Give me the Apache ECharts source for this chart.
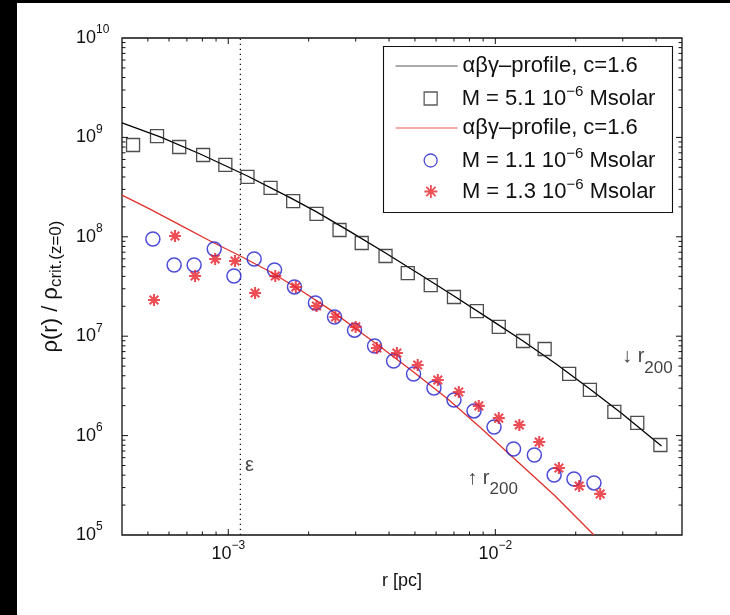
<!DOCTYPE html>
<html>
<head>
<meta charset="utf-8">
<script src="https://cdn.jsdelivr.net/npm/echarts@6/dist/echarts.min.js"></script>
<style>
html,body{margin:0;padding:0;background:#000;}
#c{width:730px;height:615px;}
</style>
</head>
<body>
<div id="c"></div>
<script>
// ---------------- data ----------------
const rBlack = [4.40e-4, 5.41e-4, 6.55e-4, 8.05e-4, 9.75e-4, 1.18e-3, 1.44e-3, 1.75e-3, 2.14e-3, 2.61e-3, 3.16e-3, 3.88e-3,
                4.70e-3, 5.73e-3, 7.00e-3, 8.53e-3, 1.03e-2, 1.27e-2, 1.53e-2, 1.89e-2, 2.26e-2, 2.79e-2, 3.40e-2, 4.15e-2];
const rhoBlack = [8.39e8, 1.03e9, 8.01e8, 6.65e8, 5.28e8, 4.00e8, 3.10e8, 2.29e8, 1.70e8, 1.17e8, 8.66e7, 6.41e7,
                  4.32e7, 3.27e7, 2.48e7, 1.79e7, 1.24e7, 8.95e6, 7.43e6, 4.17e6, 2.88e6, 1.73e6, 1.34e6, 8.04e5];

const rBlue = [5.22e-4, 6.27e-4, 7.45e-4, 8.86e-4, 1.05e-3, 1.25e-3, 1.49e-3, 1.77e-3, 2.12e-3, 2.50e-3, 2.97e-3, 3.53e-3,
               4.16e-3, 4.94e-3, 5.89e-3, 7.00e-3, 8.32e-3, 9.89e-3, 1.17e-2, 1.40e-2, 1.66e-2, 1.97e-2, 2.34e-2];
const rhoBlue = [9.50e7, 5.20e7, 5.20e7, 7.54e7, 4.03e7, 5.98e7, 4.63e7, 3.13e7, 2.16e7, 1.56e7, 1.15e7, 7.97e6,
                 5.63e6, 4.17e6, 3.01e6, 2.28e6, 1.77e6, 1.22e6, 7.33e5, 6.38e5, 4.01e5, 3.66e5, 3.34e5];

const rRed = [5.27e-4, 6.32e-4, 7.51e-4, 8.93e-4, 1.06e-3, 1.26e-3, 1.50e-3, 1.79e-3, 2.14e-3, 2.52e-3, 3.00e-3, 3.60e-3,
              4.28e-3, 5.12e-3, 6.09e-3, 7.30e-3, 8.67e-3, 1.03e-2, 1.23e-2, 1.46e-2, 1.73e-2, 2.06e-2, 2.47e-2];
const rhoRed = [2.31e7, 1.02e8, 4.03e7, 5.98e7, 5.71e7, 2.72e7, 4.03e7, 3.13e7, 2.01e7, 1.56e7, 1.24e7, 7.61e6,
                6.78e6, 5.13e6, 3.63e6, 2.75e6, 1.99e6, 1.50e6, 1.28e6, 8.62e5, 4.72e5, 3.11e5, 2.59e5];

const rProfBlack = [4.0e-4, 5.56e-4, 7.85e-4, 1.18e-3, 1.71e-3, 2.14e-3, 2.87e-3, 3.88e-3, 5.26e-3, 7.00e-3, 9.62e-3,
                    1.27e-2, 1.69e-2, 2.26e-2, 2.96e-2, 4.19e-2];
const rhoProfBlack = [1.40e9, 1.01e9, 6.81e8, 4.09e8, 2.46e8, 1.78e8, 1.12e8, 6.87e7, 4.13e7, 2.54e7, 1.46e7,
                      8.95e6, 5.25e6, 2.94e6, 1.69e6, 7.86e5];

const rProfRed = [4.0e-4, 5.09e-4, 6.61e-4, 8.56e-4, 1.11e-3, 1.44e-3, 1.86e-3, 2.42e-3, 2.94e-3, 3.72e-3, 4.94e-3,
                  6.64e-3, 8.83e-3, 1.17e-2, 1.66e-2, 2.34e-2];
const rhoProfRed = [2.63e8, 1.90e8, 1.31e8, 9.07e7, 6.41e7, 4.42e7, 2.92e7, 1.83e7, 1.24e7, 7.79e6, 4.36e6,
                    2.33e6, 1.19e6, 5.95e5, 2.53e5, 1.0e5];

const rEpsilon = 1.11e-3;

const xRange = [4e-4, 5e-2];
const yRange = [1e5, 1e10];

const xMajorTicks = [1e-3, 1e-2];
const xMinorTicks = [5e-4, 6e-4, 7e-4, 8e-4, 9e-4, 2e-3, 3e-3, 4e-3, 5e-3, 6e-3, 7e-3, 8e-3, 9e-3, 2e-2, 3e-2, 4e-2];
const yMajorTicks = [1e6, 1e7, 1e8, 1e9];
const yMinorTicks = [2e5, 3e5, 4e5, 5e5, 6e5, 7e5, 8e5, 9e5, 2e6, 3e6, 4e6, 5e6, 6e6, 7e6, 8e6, 9e6,
                     2e7, 3e7, 4e7, 5e7, 6e7, 7e7, 8e7, 9e7, 2e8, 3e8, 4e8, 5e8, 6e8, 7e8, 8e8, 9e8,
                     2e9, 3e9, 4e9, 5e9, 6e9, 7e9, 8e9, 9e9];

const annX = [2.97e-2, 7.82e-3, 1.15e-3];
const annY = [6.18e6, 3.74e5, 5.06e5];
const annText = ['\u2193 r{sub|200}', '\u2191 r{sub|200}', '\u03b5'];

const seriesKeys = ['profA', 'dataA', 'profB', 'dataB', 'dataC'];
const legendText = {
  profA: '\u03b1\u03b2\u03b3\u2013profile, c=1.6',
  dataA: 'M = 5.1 10{sup|\u22126} Msolar',
  profB: '\u03b1\u03b2\u03b3\u2013profile, c=1.6',
  dataB: 'M = 1.1 10{sup|\u22126} Msolar',
  dataC: 'M = 1.3 10{sup|\u22126} Msolar'
};

// ---------------- chart ----------------
const FONT = '"Liberation Sans", Arial, Helvetica, sans-serif';
const zip = (a, b) => a.map((v, i) => [v, b[i]]);
const squarePath = 'path://M0,0L10,0L10,10L0,10Z';
const starPath = 'path://M0,-6L0,6M-6,0L6,0M-4.3,-4.3L4.3,4.3M-4.3,4.3L4.3,-4.3';

function powLabel(v) {
  const l = Math.log10(v);
  const e = Math.round(l);
  if (Math.abs(l - e) > 1e-6) return '';
  return '10{sup|' + (e < 0 ? '\u2212' + (-e) : String(e)) + '}';
}

const chart = echarts.init(document.getElementById('c'), null, {renderer: 'canvas'});

const rowCenters = [67, 98, 129, 160, 191];
const legendDefs = [
  {key: 'profA', line: true, color: '#555'},
  {key: 'dataA', line: false, color: '#333', icon: squarePath},
  {key: 'profB', line: true, color: '#ec5a55'},
  {key: 'dataB', line: false, color: '#1f1fcf', icon: 'circle'},
  {key: 'dataC', line: false, color: '#e8262a', icon: starPath}
];

const legends = legendDefs.map((d, i) => ({
  show: true,
  orient: 'vertical',
  selectedMode: false,
  padding: 0,
  left: d.line ? 395 : 423.5,
  top: rowCenters[i] - 14,
  itemWidth: d.line ? 62 : 52,
  itemHeight: 13,
  data: d.line ? [d.key] : [{name: d.key, icon: d.icon}],
  formatter: name => legendText[name],
  textStyle: {
    fontFamily: FONT, fontSize: 22, color: '#111', lineHeight: 26,
    rich: {sup: {fontFamily: FONT, fontSize: 15, color: '#111', padding: [0, 0, 14, 0]}}
  },
  itemStyle: d.line ? {color: 'rgba(0,0,0,0)', borderWidth: 0, opacity: 0}
                    : {color: d.key === 'dataC' ? d.color : 'rgba(0,0,0,0)', borderColor: d.color, borderWidth: d.key === 'dataC' ? 1.8 : 1.3},
  lineStyle: {color: d.color, width: 1.2}
}));

const tickStyle = {stroke: '#111', lineWidth: 1};

const option = {
  backgroundColor: '#000',
  animation: false,
  graphic: {
    elements: [
      {type: 'rect', z: -10, silent: true, shape: {x: 17, y: 3, width: 713, height: 612}, style: {fill: '#fff'}},
      {type: 'rect', z: 3, silent: true, shape: {x: 383.5, y: 46.5, width: 289, height: 166},
       style: {fill: '#fff', stroke: '#111', lineWidth: 1.1}}
    ]
  },
  grid: {left: 122, right: 48, top: 38, bottom: 80, show: true, borderColor: '#111', borderWidth: 1.3,
         backgroundColor: 'rgba(0,0,0,0)', outerBoundsMode: 'none', containLabel: false},
  legend: legends,
  xAxis: {
    type: 'log', logBase: 10, min: xRange[0], max: xRange[1],
    axisLine: {show: false}, axisTick: {show: false}, splitLine: {show: false}, minorTick: {show: false},
    axisLabel: {
      formatter: powLabel, margin: 5, fontFamily: FONT, fontSize: 18, color: '#111',
      showMinLabel: true, showMaxLabel: true,
      rich: {sup: {fontFamily: FONT, fontSize: 12, color: '#111', padding: [0, 0, 16, 0]}}
    },
    name: 'r [pc]', nameLocation: 'middle', nameGap: 37,
    nameTextStyle: {fontFamily: FONT, fontSize: 18, color: '#111'}
  },
  yAxis: {
    type: 'log', logBase: 10, min: yRange[0], max: yRange[1],
    axisLine: {show: false}, axisTick: {show: false}, splitLine: {show: false}, minorTick: {show: false},
    axisLabel: {
      formatter: powLabel, margin: 46, align: 'left', fontFamily: FONT, fontSize: 18, color: '#111',
      rich: {sup: {fontFamily: FONT, fontSize: 12, color: '#111', padding: [0, 0, 16, 0]}}
    },
    name: '\u03c1(r) / \u03c1{sub|crit.(z=0)}', nameLocation: 'middle', nameGap: 50, nameRotate: 90,
    nameTextStyle: {
      fontFamily: FONT, fontSize: 22, color: '#111',
      rich: {sub: {fontFamily: FONT, fontSize: 17, color: '#111', padding: [12, 0, 0, 0]}}
    }
  },
  series: [
    {
      name: 'eps', type: 'line', data: [[rEpsilon, yRange[0]], [rEpsilon, yRange[1]]],
      symbol: 'none', showSymbol: false, silent: true, z: 1,
      lineStyle: {color: '#111', width: 1.3, type: [1.3, 3.7]}
    },
    {
      name: 'profA', type: 'line', data: zip(rProfBlack, rhoProfBlack), symbol: 'none', showSymbol: false,
      silent: true, z: 2, lineStyle: {color: '#000', width: 1.3}, itemStyle: {color: '#000'}
    },
    {
      name: 'profB', type: 'line', data: zip(rProfRed, rhoProfRed), symbol: 'none', showSymbol: false,
      silent: true, z: 2, lineStyle: {color: '#e0302c', width: 1.3}, itemStyle: {color: '#e0302c'}
    },
    {
      name: 'dataA', type: 'scatter', data: zip(rBlack, rhoBlack), symbol: squarePath, symbolSize: 13,
      silent: true, z: 3, itemStyle: {color: 'rgba(0,0,0,0)', borderColor: '#222', borderWidth: 1.3}
    },
    {
      name: 'dataB', type: 'scatter', data: zip(rBlue, rhoBlue), symbol: 'circle', symbolSize: 14,
      silent: true, z: 3, itemStyle: {color: 'rgba(0,0,0,0)', borderColor: '#1f1fcf', borderWidth: 1.5}
    },
    {
      name: 'dataC', type: 'scatter', data: zip(rRed, rhoRed), symbol: starPath, symbolSize: 12,
      silent: true, z: 3, itemStyle: {color: '#e8202a', borderColor: '#e8202a', borderWidth: 2.1}
    },
    {
      name: 'ann', type: 'scatter', silent: true, z: 4, symbolSize: 1,
      itemStyle: {color: 'rgba(0,0,0,0)'},
      data: annX.map((x, i) => ({value: [x, annY[i]], label: {formatter: annText[i]}})),
      label: {
        show: true, position: 'right', distance: 0, fontFamily: FONT, fontSize: 20, color: '#111',
        rich: {sub: {fontFamily: FONT, fontSize: 17, color: '#111', padding: [22, 0, 0, 0]}}
      }
    },
    {
      name: 'xticks', type: 'custom', silent: true, z: 5, clip: false,
      data: xMinorTicks.map(v => [v, yRange[0], 0]).concat(xMajorTicks.map(v => [v, yRange[0], 1])),
      renderItem: (params, api) => {
        const cs = params.coordSys;
        const x = api.coord([api.value(0), api.value(1)])[0];
        const len = api.value(2) ? 6 : 3.5;
        const b = cs.y + cs.height, t = cs.y;
        return {type: 'group', children: [
          {type: 'line', shape: {x1: x, y1: b, x2: x, y2: b - len}, style: tickStyle},
          {type: 'line', shape: {x1: x, y1: t, x2: x, y2: t + len}, style: tickStyle}
        ]};
      }
    },
    {
      name: 'yticks', type: 'custom', silent: true, z: 5, clip: false,
      data: yMinorTicks.map(v => [xRange[0], v, 0]).concat(yMajorTicks.map(v => [xRange[0], v, 1])),
      renderItem: (params, api) => {
        const cs = params.coordSys;
        const y = api.coord([api.value(0), api.value(1)])[1];
        const len = api.value(2) ? 6 : 3.5;
        const l = cs.x, r = cs.x + cs.width;
        return {type: 'group', children: [
          {type: 'line', shape: {x1: l, y1: y, x2: l + len, y2: y}, style: tickStyle},
          {type: 'line', shape: {x1: r, y1: y, x2: r - len, y2: y}, style: tickStyle}
        ]};
      }
    }
  ]
};

chart.setOption(option);
</script>
</body>
</html>
